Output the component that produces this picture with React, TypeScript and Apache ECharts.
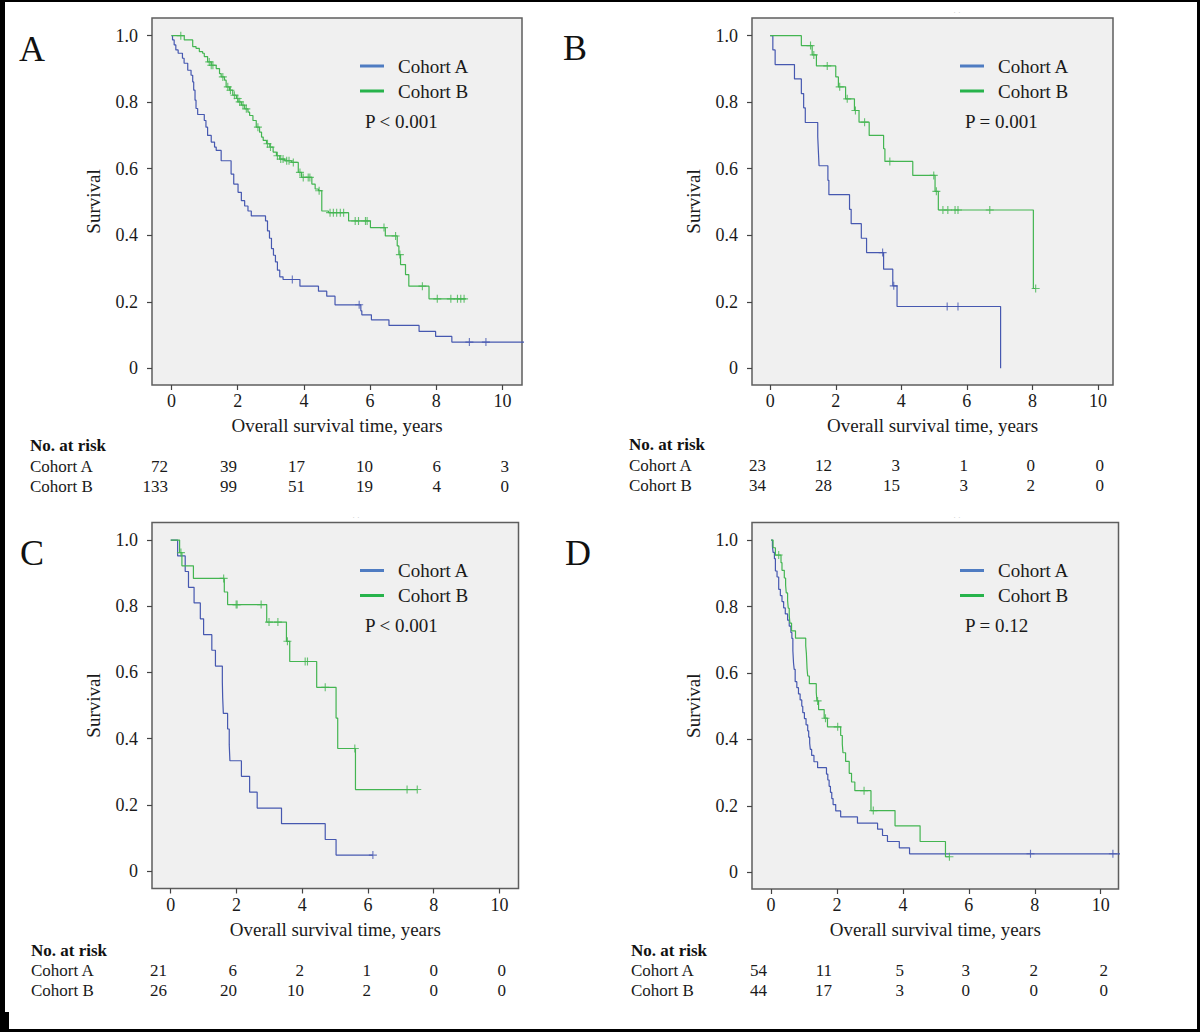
import React, { useEffect, useRef } from "react";
import * as echarts from "echarts";

const FONT = '"Liberation Serif", "Times New Roman", serif';

// ---------- labels ----------
const timeTicks = [0, 2, 4, 6, 8, 10];
const survivalTicks = [0, 0.2, 0.4, 0.6, 0.8, 1.0];
const cohortNames = ["Cohort A", "Cohort B"];
const panelLetters = ["A", "B", "C", "D"];
const pLabels = ["P < 0.001", "P = 0.001", "P < 0.001", "P = 0.12"];
const xAxisTitle = "Overall survival time, years";
const yAxisTitle = "Survival";
const riskTitle = "No. at risk";

// ---------- Panel A ----------
const stepsA1: number[][] = [[0,1],[0.03,0.987],[0.08,0.972],[0.13,0.957],[0.2,0.947],[0.33,0.932],[0.38,0.917],[0.49,0.896],[0.59,0.881],[0.64,0.861],[0.67,0.836],[0.71,0.806],[0.74,0.781],[0.79,0.763],[0.99,0.745],[1.04,0.725],[1.09,0.7],[1.2,0.68],[1.3,0.665],[1.35,0.655],[1.5,0.624],[1.8,0.584],[1.88,0.554],[2.01,0.529],[2.11,0.504],[2.21,0.488],[2.31,0.473],[2.41,0.458],[2.84,0.443],[2.9,0.413],[2.96,0.391],[3.02,0.36],[3.08,0.34],[3.14,0.32],[3.2,0.295],[3.27,0.275],[3.37,0.267],[3.88,0.247],[4.44,0.232],[4.69,0.217],[4.94,0.191],[5.72,0.173],[5.75,0.161],[6.04,0.146],[6.57,0.129],[7.48,0.111],[7.98,0.096],[8.47,0.079]];
const censorA1 = [3.65, 5.67, 9.0, 9.5];
const endA1 = 10.7;
const stepsA2: number[][] = [[0,1],[0.385,0.987],[0.64,0.967],[0.74,0.962],[0.84,0.952],[0.94,0.947],[0.99,0.937],[1.09,0.921],[1.2,0.911],[1.35,0.901],[1.45,0.886],[1.5,0.876],[1.6,0.866],[1.65,0.846],[1.75,0.836],[1.85,0.821],[1.96,0.811],[2.01,0.801],[2.11,0.791],[2.21,0.78],[2.31,0.77],[2.36,0.76],[2.46,0.745],[2.56,0.725],[2.66,0.71],[2.72,0.695],[2.77,0.685],[2.87,0.675],[2.97,0.665],[3.07,0.65],[3.17,0.639],[3.27,0.629],[3.42,0.624],[3.63,0.619],[3.83,0.589],[3.93,0.574],[4.24,0.554],[4.34,0.539],[4.44,0.534],[4.54,0.473],[4.74,0.468],[5.35,0.443],[6.01,0.423],[6.46,0.398],[6.82,0.368],[6.87,0.342],[6.92,0.312],[7.07,0.282],[7.17,0.247],[7.78,0.209]];
const censorA2 = [0.28,1.14,1.2,1.25,1.55,1.7,1.78,1.9,2.0,2.06,2.16,2.26,2.61,2.9,2.99,3.2,3.3,3.37,3.48,3.55,3.68,3.88,3.98,4.13,4.18,4.46,4.79,4.89,4.99,5.1,5.2,5.55,5.65,5.86,5.91,6.42,6.77,6.9,7.58,8.03,8.44,8.64,8.74,8.84];
const endA2 = 8.9;
const riskA1 = [72, 39, 17, 10, 6, 3];
const riskA2 = [133, 99, 51, 19, 4, 0];

// ---------- Panel B ----------
const stepsB1: number[][] = [[0,1],[0.08,0.957],[0.15,0.913],[0.74,0.87],[0.95,0.826],[1.02,0.783],[1.07,0.739],[1.45,0.696],[1.47,0.652],[1.49,0.609],[1.76,0.565],[1.79,0.522],[2.42,0.478],[2.47,0.435],[2.78,0.391],[2.94,0.348],[3.46,0.298],[3.74,0.248],[3.87,0.186],[7.03,0]];
const censorB1 = [3.43, 3.77, 5.4, 5.73];
const endB1 = 7.03;
const stepsB2: number[][] = [[0,1],[0.95,0.97],[1.28,0.942],[1.41,0.909],[2.0,0.876],[2.08,0.846],[2.3,0.81],[2.57,0.775],[2.71,0.74],[3.02,0.7],[3.46,0.66],[3.5,0.622],[4.35,0.58],[5.03,0.532],[5.13,0.476],[8.03,0.24]];
const censorB2 = [1.23,1.33,1.74,2.12,2.35,2.6,2.88,3.65,4.99,5.07,5.27,5.42,5.64,5.73,6.7,8.1];
const endB2 = 8.1;
const riskB1 = [23, 12, 3, 1, 0, 0];
const riskB2 = [34, 28, 15, 3, 2, 0];

// ---------- Panel C ----------
const stepsC1: number[][] = [[0,1],[0.21,0.952],[0.44,0.905],[0.54,0.857],[0.71,0.81],[0.9,0.762],[1.0,0.714],[1.25,0.667],[1.36,0.619],[1.57,0.571],[1.58,0.524],[1.6,0.476],[1.73,0.429],[1.78,0.381],[1.8,0.333],[2.15,0.286],[2.4,0.238],[2.63,0.19],[3.37,0.143],[4.7,0.095],[5.03,0.048]];
const censorC1 = [6.15];
const endC1 = 6.15;
const stepsC2: number[][] = [[0,1],[0.27,0.962],[0.34,0.922],[0.69,0.884],[1.63,0.843],[1.73,0.805],[2.92,0.752],[3.52,0.694],[3.62,0.633],[4.44,0.555],[5.03,0.462],[5.08,0.37],[5.62,0.246]];
const censorC2 = [0.31,1.61,1.99,2.02,2.75,2.99,3.26,3.55,4.09,4.16,4.7,5.6,7.19,7.5];
const endC2 = 7.5;
const riskC1 = [21, 6, 2, 1, 0, 0];
const riskC2 = [26, 20, 10, 2, 0, 0];

// ---------- Panel D ----------
const stepsD1: number[][] = [[0,1],[0.04,0.981],[0.06,0.963],[0.1,0.944],[0.13,0.907],[0.18,0.889],[0.23,0.852],[0.28,0.833],[0.33,0.815],[0.38,0.796],[0.43,0.778],[0.5,0.759],[0.55,0.741],[0.6,0.722],[0.63,0.704],[0.66,0.667],[0.68,0.63],[0.7,0.611],[0.73,0.574],[0.78,0.556],[0.83,0.537],[0.88,0.519],[0.93,0.5],[0.96,0.481],[1.01,0.463],[1.06,0.444],[1.11,0.426],[1.14,0.407],[1.17,0.389],[1.19,0.37],[1.23,0.352],[1.3,0.333],[1.41,0.315],[1.68,0.296],[1.72,0.278],[1.76,0.259],[1.8,0.241],[1.84,0.222],[1.88,0.204],[1.96,0.185],[2.11,0.167],[2.62,0.148],[3.23,0.13],[3.38,0.111],[3.53,0.093],[3.89,0.074],[4.2,0.056]];
const censorD1 = [7.87, 10.37];
const endD1 = 10.7;
const stepsD2: number[][] = [[0,1],[0.06,0.977],[0.13,0.955],[0.3,0.932],[0.33,0.909],[0.4,0.886],[0.44,0.864],[0.46,0.841],[0.5,0.818],[0.52,0.795],[0.55,0.773],[0.57,0.75],[0.62,0.727],[0.74,0.705],[1.05,0.682],[1.07,0.659],[1.09,0.614],[1.11,0.591],[1.16,0.568],[1.37,0.542],[1.39,0.516],[1.44,0.49],[1.61,0.464],[1.71,0.438],[2.11,0.412],[2.16,0.386],[2.18,0.36],[2.26,0.334],[2.37,0.298],[2.44,0.272],[2.54,0.246],[3.03,0.186],[3.76,0.14],[4.52,0.093],[5.29,0.047]];
const censorD2 = [0.23, 1.41, 1.65, 2.02, 2.82, 3.1, 5.41];
const endD2 = 5.41;
const riskD1 = [54, 11, 5, 3, 2, 2];
const riskD2 = [44, 17, 3, 0, 0, 0];

// ---------- styling / layout ----------
const curveColors = ["#4658b0", "#43b551"];
const legendColors = ["#4f7cc2", "#27b34b"];
const PLUS = "path://M-0.14,-1L0.14,-1L0.14,-0.14L1,-0.14L1,0.14L0.14,0.14L0.14,1L-0.14,1L-0.14,0.14L-1,0.14L-1,-0.14L-0.14,-0.14Z";

const panels = [
  { steps: [stepsA1, stepsA2], censors: [censorA1, censorA2], ends: [endA1, endA2], risk: [riskA1, riskA2],
    left: 152, top: 18, width: 370, height: 367, xMin: -0.59, xMax: 10.59, yMin: -0.05, yMax: 1.053,
    letterX: 32, letterY: 49, tableX: 30, cols: [168, 237, 305, 373, 441, 509], rows: [445, 466, 486] },
  { steps: [stepsB1, stepsB2], censors: [censorB1, censorB2], ends: [endB1, endB2], risk: [riskB1, riskB2],
    left: 752, top: 18, width: 361, height: 367, xMin: -0.556, xMax: 10.46, yMin: -0.05, yMax: 1.053,
    letterX: 575, letterY: 48, tableX: 629, cols: [766, 832, 900, 968, 1035, 1104], rows: [444, 465, 485] },
  { steps: [stepsC1, stepsC2], censors: [censorC1, censorC2], ends: [endC1, endC2], risk: [riskC1, riskC2],
    left: 152, top: 522.5, width: 366.5, height: 366, xMin: -0.57, xMax: 10.58, yMin: -0.053, yMax: 1.053,
    letterX: 32, letterY: 553, tableX: 31, cols: [167, 237, 304, 371, 438, 506], rows: [950, 970, 990] },
  { steps: [stepsD1, stepsD2], censors: [censorD1, censorD2], ends: [endD1, endD2], risk: [riskD1, riskD2],
    left: 752, top: 522.5, width: 366.5, height: 366.5, xMin: -0.58, xMax: 10.54, yMin: -0.05, yMax: 1.053,
    letterX: 578, letterY: 553, tableX: 631, cols: [767, 832, 904, 970, 1038, 1108], rows: [950, 970, 990] },
];

function survivalAt(steps: number[][], t: number): number {
  let s = steps[0][1];
  for (const [time, val] of steps) {
    if (time <= t + 1e-9) s = val;
    else break;
  }
  return s;
}

function buildOption() {
  const grid: any[] = [];
  const xAxis: any[] = [];
  const yAxis: any[] = [];
  const series: any[] = [];
  const graphic: any[] = [];

  panels.forEach((p, i) => {
    grid.push({
      left: p.left, top: p.top, width: p.width, height: p.height,
      show: true, backgroundColor: "#f0f0f0", borderColor: "#5e5e5e", borderWidth: 1.5,
      containLabel: false,
    });
    xAxis.push({
      type: "value", gridIndex: i, min: p.xMin, max: p.xMax, position: "bottom",
      axisLine: { show: false, onZero: false },
      axisTick: { show: true, inside: false, length: 5, customValues: timeTicks, lineStyle: { color: "#444", width: 1.2 } },
      axisLabel: { customValues: timeTicks, margin: 7, fontSize: 18, fontFamily: FONT, color: "#1a1a1a" },
      splitLine: { show: false },
      name: xAxisTitle, nameLocation: "middle", nameGap: 31,
      nameTextStyle: { fontSize: 19, fontFamily: FONT, color: "#1a1a1a" },
    });
    yAxis.push({
      type: "value", gridIndex: i, min: p.yMin, max: p.yMax, position: "left",
      axisLine: { show: false, onZero: false },
      axisTick: { show: true, inside: false, length: 5, customValues: survivalTicks, lineStyle: { color: "#444", width: 1.2 } },
      axisLabel: {
        customValues: survivalTicks, margin: 14, fontSize: 18, fontFamily: FONT, color: "#1a1a1a",
        formatter: (v: number) => (Math.abs(v) < 1e-9 ? "0" : v.toFixed(1)),
      },
      splitLine: { show: false },
      name: yAxisTitle, nameLocation: "middle", nameGap: 49,
      nameTextStyle: { fontSize: 19, fontFamily: FONT, color: "#1a1a1a" },
    });

    [0, 1].forEach((c) => {
      const steps = p.steps[c];
      const last = steps[steps.length - 1];
      const lineData = steps.concat(p.ends[c] > last[0] ? [[p.ends[c], last[1]]] : []);
      series.push({
        type: "line", name: cohortNames[c], xAxisIndex: i, yAxisIndex: i,
        data: lineData, step: "end", symbol: "none", showSymbol: false, clip: true, silent: true,
        lineStyle: { color: curveColors[c], width: 1.2 },
        itemStyle: { color: curveColors[c] },
        z: 3,
      });
      series.push({
        type: "scatter", name: cohortNames[c] + " censored", xAxisIndex: i, yAxisIndex: i,
        data: p.censors[c].map((t) => [t, survivalAt(steps, t)]),
        symbol: PLUS, symbolSize: 8, clip: true, silent: true,
        itemStyle: { color: curveColors[c] },
        z: 4,
      });
    });

    // panel letter
    graphic.push({
      type: "text", x: p.letterX, y: p.letterY,
      style: { text: panelLetters[i], fontSize: 36, fontFamily: FONT, fill: "#111", align: "center", verticalAlign: "middle" },
    });
    // legend
    const lx = p.left + 208;
    [0, 1].forEach((c) => {
      const ly = p.top + 48 + c * 25;
      graphic.push({ type: "rect", shape: { x: lx, y: ly - 1.5, width: 24, height: 3 }, style: { fill: legendColors[c] } });
      graphic.push({
        type: "text", x: lx + 38, y: ly,
        style: { text: cohortNames[c], fontSize: 19, fontFamily: FONT, fill: "#1a1a1a", align: "left", verticalAlign: "middle" },
      });
    });
    graphic.push({
      type: "text", x: lx + 5, y: p.top + 103,
      style: { text: pLabels[i], fontSize: 19, fontFamily: FONT, fill: "#1a1a1a", align: "left", verticalAlign: "middle" },
    });
    // risk table
    graphic.push({
      type: "text", x: p.tableX, y: p.rows[0],
      style: { text: riskTitle, fontSize: 17, fontWeight: "bold", fontFamily: FONT, fill: "#111", align: "left", verticalAlign: "middle" },
    });
    [0, 1].forEach((c) => {
      graphic.push({
        type: "text", x: p.tableX, y: p.rows[c + 1],
        style: { text: cohortNames[c], fontSize: 17, fontFamily: FONT, fill: "#1a1a1a", align: "left", verticalAlign: "middle" },
      });
      p.risk[c].forEach((n, k) => {
        graphic.push({
          type: "text", x: p.cols[k], y: p.rows[c + 1],
          style: { text: String(n), fontSize: 17, fontFamily: FONT, fill: "#1a1a1a", align: "right", verticalAlign: "middle" },
        });
      });
    });
  });

  // faint marks
  [[356, 517], [957, 517], [957, 12]].forEach(([x, y]) => {
    graphic.push({ type: "text", x, y, style: { text: "· ·", fontSize: 8, fontFamily: FONT, fill: "#c8c8c8", align: "center", verticalAlign: "middle" } });
  });

  // outer frame
  graphic.push({ type: "rect", shape: { x: 0, y: 0, width: 1200, height: 2 }, style: { fill: "#000" } });
  graphic.push({ type: "rect", shape: { x: 0, y: 0, width: 5, height: 1032 }, style: { fill: "#000" } });
  graphic.push({ type: "rect", shape: { x: 1197, y: 0, width: 3, height: 1032 }, style: { fill: "#000" } });
  graphic.push({ type: "rect", shape: { x: 0, y: 1029, width: 1200, height: 3 }, style: { fill: "#000" } });
  graphic.push({ type: "rect", shape: { x: 0, y: 1012, width: 9, height: 18 }, style: { fill: "#000" } });

  return {
    animation: false,
    backgroundColor: "#ffffff",
    grid, xAxis, yAxis, series, graphic,
  };
}

export default function App() {
  const ref = useRef<HTMLDivElement>(null);
  useEffect(() => {
    if (!ref.current) return;
    const chart = echarts.init(ref.current, undefined, { renderer: "svg" });
    chart.setOption(buildOption() as any);
    return () => chart.dispose();
  }, []);
  return (
    <div
      ref={ref}
      style={{ position: "absolute", left: 0, top: 0, width: 1200, height: 1032, background: "#fff" }}
    />
  );
}
